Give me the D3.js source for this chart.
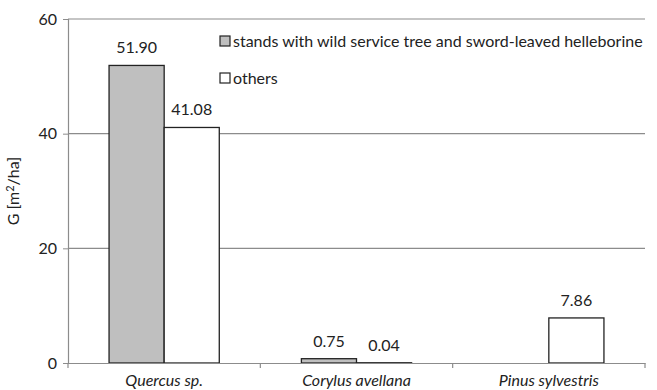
<!DOCTYPE html>
<html><head><meta charset="utf-8">
<script src="https://cdn.jsdelivr.net/npm/d3@7"></script>
<style>body{margin:0;background:#fff;} svg{display:block;font-family:"Lato",sans-serif;}</style>
</head><body><svg id="c" width="657" height="390"></svg>
<script>
const categories = ["Quercus sp.", "Corylus avellana", "Pinus sylvestris"];
const seriesNames = ["stands with wild service tree and sword-leaved helleborine", "others"];
const standsValues = [51.90, 0.75, null];
const othersValues = [41.08, 0.04, 7.86];
const yTicks = [0, 20, 40, 60];
const colors = ["#bfbfbf", "#ffffff"];
const FONT = "Lato", FS = 16;

const svg = d3.select("#c");
const m = {l:68, r:12, t:19, b:27};
const W = 657, H = 390;
const x = d3.scaleBand().domain(categories).range([m.l, W - m.r]).padding(0);
const y = d3.scaleLinear().domain([0, 60]).range([H - m.b, m.t]);
const xs = d3.scaleBand().domain([0,1]).range([0, x.bandwidth()]).paddingInner(0).paddingOuter(0.745);

// gridlines
svg.append("g").selectAll("line").data(yTicks.filter(d=>d>0)).join("line")
  .attr("x1", m.l).attr("x2", W - m.r).attr("y1", d=>y(d)).attr("y2", d=>y(d))
  .attr("stroke", "#8c8c8c").attr("stroke-width", 1.2);

// y axis
const ya = svg.append("g").attr("transform", `translate(${m.l},0)`)
  .call(d3.axisLeft(y).tickValues(yTicks).tickSize(5).tickPadding(6));
ya.select(".domain").attr("stroke", "#8c8c8c").attr("stroke-width", 1.2);
ya.selectAll(".tick line").attr("stroke", "#8c8c8c");
ya.selectAll("text").attr("font-size", FS).attr("fill", "#222").attr("font-family", FONT);

// bars
const series = [standsValues, othersValues];
series.forEach((vals, si) => {
  const g = svg.append("g");
  const data = categories.map((c, i) => ({c, v: vals[i]})).filter(d => d.v != null);
  g.selectAll("rect").data(data).join("rect")
    .attr("x", d => x(d.c) + xs(si))
    .attr("width", xs.bandwidth())
    .attr("y", d => y(d.v))
    .attr("height", d => y(0) - y(d.v))
    .attr("fill", colors[si]).attr("stroke", "#222").attr("stroke-width", 1.3);
  g.selectAll("text").data(data).join("text")
    .attr("x", d => x(d.c) + xs(si) + xs.bandwidth()/2)
    .attr("y", d => y(d.v) - 12)
    .attr("text-anchor", "middle").attr("font-size", FS).attr("fill", "#222")
    .text(d => d.v.toFixed(2));
});

// x axis
const xa = svg.append("g").attr("transform", `translate(0,${y(0)})`)
  .call(d3.axisBottom(x).tickSize(0).tickPadding(12));
xa.select(".domain").attr("stroke", "#8c8c8c").attr("stroke-width", 1.2);
xa.selectAll("text").attr("font-size", FS).attr("font-style", "italic").attr("fill", "#222").attr("font-family", FONT);
// boundary ticks
const bounds = categories.map(c => x(c)).concat([W - m.r]);
svg.append("g").selectAll("line").data(bounds).join("line")
  .attr("x1", d=>d).attr("x2", d=>d).attr("y1", y(0)).attr("y2", y(0)+5)
  .attr("stroke", "#8c8c8c").attr("stroke-width", 1.2);

// y title
svg.append("text").attr("transform", `translate(19,${(m.t + y(0))/2}) rotate(-90)`)
  .attr("text-anchor", "middle").attr("font-size", FS).attr("fill", "#222")
  .html('G [m<tspan dy="-5" font-size="11">2</tspan><tspan dy="5">/ha]</tspan>');

// legend
const lg = svg.append("g");
seriesNames.forEach((n, i) => {
  const yy = 41 + i * 37;
  lg.append("rect").attr("x", 220).attr("y", yy - 5).attr("width", 10).attr("height", 10)
    .attr("fill", colors[i]).attr("stroke", "#222").attr("stroke-width", 1.2);
  lg.append("text").attr("x", 233).attr("y", yy).attr("dy", "0.35em")
    .attr("font-size", FS).attr("fill", "#222").text(n);
});
</script></body></html>
